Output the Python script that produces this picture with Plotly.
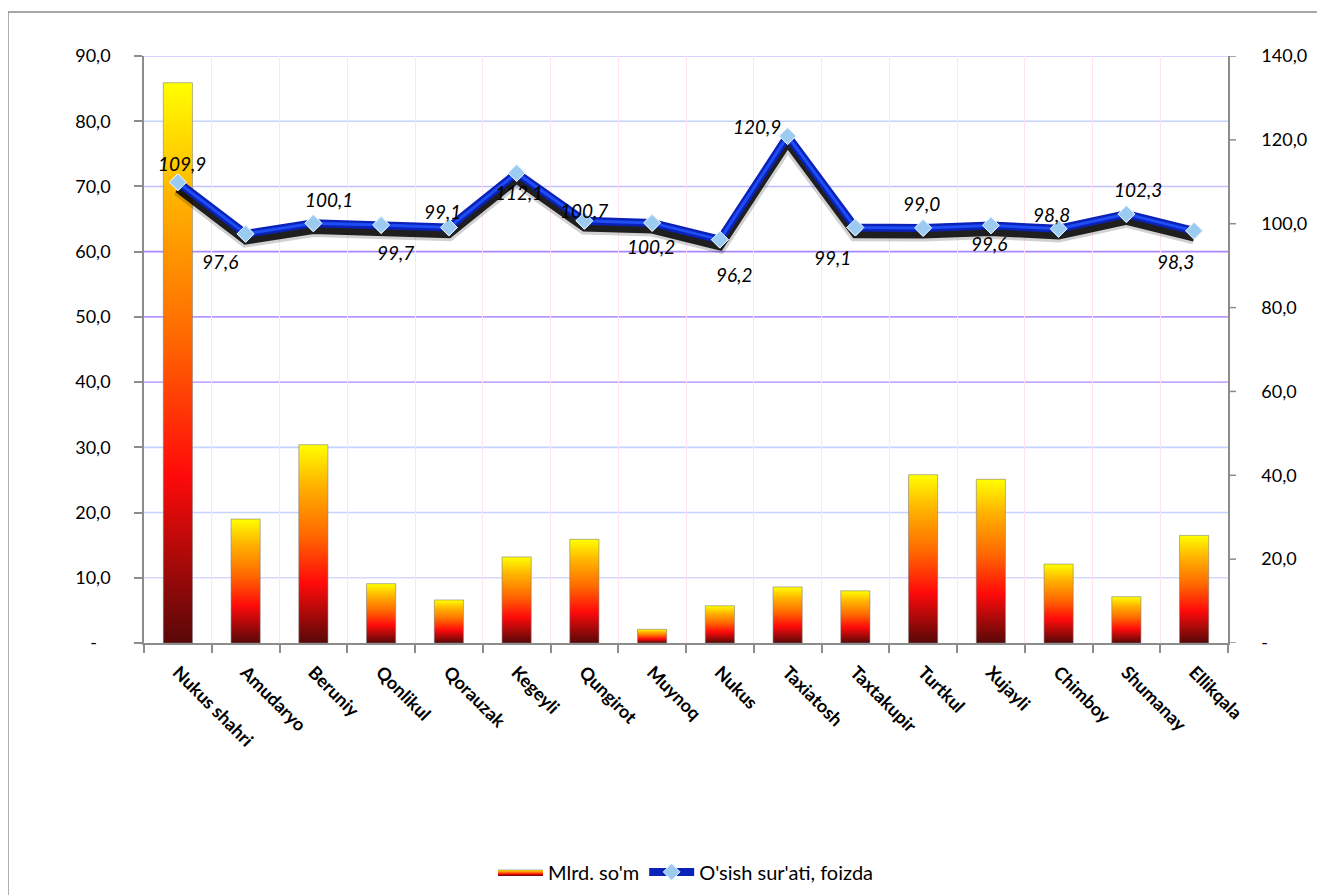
import plotly.graph_objects as go

# ---------------- data ----------------
categories = ["Nukus shahri", "Amudaryo", "Beruniy", "Qonlikul", "Qorauzak", "Kegeyli",
              "Qungirot", "Muynoq", "Nukus", "Taxiatosh", "Taxtakupir", "Turtkul",
              "Xujayli", "Chimboy", "Shumanay", "Ellikqala"]
mlrd_som = [85.9, 19.0, 30.4, 9.1, 6.6, 13.2, 15.9, 2.1, 5.7, 8.6, 8.0, 25.8, 25.1, 12.1, 7.1, 16.5]
growth_pct = [109.9, 97.6, 100.1, 99.7, 99.1, 112.1, 100.7, 100.2, 96.2, 120.9, 99.1, 99.0,
              99.6, 98.8, 102.3, 98.3]
left_ticks = [0, 10, 20, 30, 40, 50, 60, 70, 80, 90]
right_ticks = [0, 20, 40, 60, 80, 100, 120, 140]
bar_name = "Mlrd. so'm"
line_name = "O'sish sur'ati, foizda"

# ---------------- styles ----------------
# pixel offsets of each data label from its point (dx, dy; +dy = downward)
label_shift = [(4, -19), (-26, 28), (16, -24), (14, 28), (-6, -16), (2, 20), (0, -10),
               (-1, 24), (14, 35), (-31, -10), (-23, 30), (-2, -24), (-2, 18), (-7, -14),
               (12, -25), (-19, 31)]
grid_colors = {10: "#d8d8ff", 20: "#c4d4ff", 30: "#c4d4ff", 40: "#c8a8ff", 50: "#b898ff",
               60: "#a888ff", 70: "#c0c0ff", 80: "#c4d4ff", 90: "#d0c0ff"}
bar_scale = [[0.0, "#580808"], [0.3, "#ff0a0a"], [0.55, "#ff6a00"],
             [0.8, "#ffb400"], [1.0, "#ffff00"]]
FONT = "Lato"
NB = "\u00a0"
AXC = "#8c8c8c"
PLOT_W = 1084


def fmt(v):
    return "-" if v == 0 else f"{v:.1f}".replace(".", ",")


fig = go.Figure()

n = len(categories)
half = 0.215
for i, v in enumerate(mlrd_som):
    fig.add_trace(go.Scatter(
        x=[i - half, i + half, i + half, i - half, i - half],
        y=[0, 0, v, v, 0],
        mode="lines", fill="toself",
        fillgradient=dict(type="vertical", colorscale=bar_scale),
        line=dict(color="rgba(120,120,120,0.55)", width=1),
        name=bar_name, legendgroup="bars", showlegend=(i == 0),
        hoverinfo="skip", xaxis="x", yaxis="y"))

xs = list(range(n))
# shadow (drawn on a slightly shifted hidden axis)
fig.add_trace(go.Scatter(x=xs, y=growth_pct, mode="lines",
                         line=dict(color="rgba(0,0,0,0.18)", width=14),
                         showlegend=False, hoverinfo="skip", yaxis="y2"))
fig.add_trace(go.Scatter(x=xs, y=growth_pct, mode="lines",
                         line=dict(color="rgba(0,0,0,0.85)", width=8),
                         showlegend=False, hoverinfo="skip", yaxis="y2"))
# main line
fig.add_trace(go.Scatter(x=xs, y=growth_pct, mode="lines+markers", name=line_name,
                         line=dict(color="#0a22b8", width=8),
                         marker=dict(symbol="diamond", size=13, color="#9ccbf2",
                                     line=dict(color="#e6f3ff", width=1)),
                         yaxis="y3"))
fig.add_trace(go.Scatter(x=xs, y=growth_pct, mode="lines",
                         line=dict(color="rgba(35,85,255,0.85)", width=3),
                         showlegend=False, hoverinfo="skip", yaxis="y3"))
fig.add_trace(go.Scatter(x=xs, y=growth_pct, mode="markers",
                         marker=dict(symbol="diamond", size=13, color="#9ccbf2",
                                     line=dict(color="#e6f3ff", width=1)),
                         showlegend=False, hoverinfo="skip", yaxis="y3"))

annotations = []
for i, (v, (dx, dy)) in enumerate(zip(growth_pct, label_shift)):
    annotations.append(dict(x=i, y=v, xref="x", yref="y3", text=fmt(v), showarrow=False,
                            xanchor="center", yanchor="middle", xshift=dx, yshift=-dy,
                            font=dict(family=FONT, size=19, color="#000", style="italic")))

shapes = []
for v in left_ticks[1:]:
    shapes.append(dict(type="line", xref="x domain", x0=0, x1=1, yref="y", y0=v, y1=v,
                       line=dict(color=grid_colors[v], width=1.6), layer="below"))
for v in right_ticks:
    shapes.append(dict(type="line", xref="x domain", x0=1, x1=1 + 8 / PLOT_W,
                       yref="y3", y0=v, y1=v, line=dict(color=AXC, width=1.5)))
shapes.append(dict(type="rect", xref="paper", yref="paper", x0=-0.1255, x1=1.5,
                   y0=-1.0, y1=1.075, line=dict(color=AXC, width=1.5),
                   fillcolor="rgba(0,0,0,0)"))

fig.update_layout(
    width=1317, height=887,
    margin=dict(l=136, r=97, t=48, b=252, autoexpand=False),
    paper_bgcolor="white", plot_bgcolor="white",
    font=dict(family=FONT, size=18, color="#000"),
    shapes=shapes, annotations=annotations,
    xaxis=dict(range=[-0.5, n - 0.5], tickmode="array", tickvals=xs, ticktext=categories,
               tickangle=45, ticks="", showgrid=False, zeroline=False,
               showline=True, linecolor=AXC, linewidth=1.5, ticklabelstandoff=10,
               tickfont=dict(family=FONT, size=18, weight="bold"),
               minor=dict(tickmode="array", tickvals=[i - 0.5 for i in range(n + 1)],
                          ticks="outside", ticklen=8, tickcolor=AXC, tickwidth=1.5,
                          showgrid=True, gridcolor="#ffe2f3", gridwidth=1)),
    yaxis=dict(range=[0, 90], tickmode="array", tickvals=left_ticks,
               ticktext=[fmt(v) if v else "-" + NB * 3 for v in left_ticks],
               ticks="outside", ticklen=8, tickcolor=AXC, tickwidth=1.5,
               showline=True, linecolor=AXC, linewidth=1.5,
               showgrid=False, zeroline=False, ticklabelstandoff=20,
               tickfont=dict(family=FONT, size=18)),
    yaxis2=dict(overlaying="y", range=[1.6, 141.6], visible=False),
    yaxis3=dict(overlaying="y", side="right", range=[0, 140], tickmode="array",
                tickvals=right_ticks, ticktext=[fmt(v) for v in right_ticks],
                ticks="outside", ticklen=28, tickcolor="rgba(0,0,0,0)", tickwidth=1,
                showline=True, linecolor=AXC, linewidth=1.5,
                showgrid=False, zeroline=False,
                tickfont=dict(family=FONT, size=18)),
    legend=dict(orientation="h", x=0.5, xanchor="center", y=-0.39, yanchor="middle",
                font=dict(family=FONT, size=20), bgcolor="rgba(0,0,0,0)", itemwidth=45),
    showlegend=True,
)

fig.write_html("out.html")
